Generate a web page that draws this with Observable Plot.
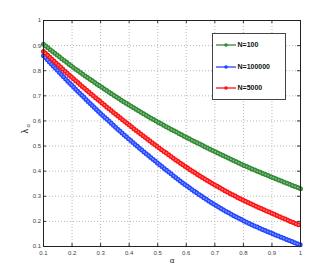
<!DOCTYPE html>
<html><head><meta charset="utf-8">
<script src="https://cdn.jsdelivr.net/npm/d3@7"></script>
<script src="https://cdn.jsdelivr.net/npm/@observablehq/plot@0.6"></script>
<style>body{margin:0;background:#fff}#chart{width:332px;height:277px}</style>
</head><body><div id="chart"></div>
<script>
const alpha = [0.1, 0.2, 0.3, 0.4, 0.5, 0.6, 0.7, 0.8, 0.9, 1.0];
const n100 = [0.905, 0.817, 0.737, 0.663, 0.596, 0.535, 0.478, 0.424, 0.376, 0.330];
const n100000 = [0.860, 0.741, 0.630, 0.527, 0.432, 0.343, 0.266, 0.203, 0.152, 0.106];
const n5000 = [0.877, 0.773, 0.676, 0.584, 0.497, 0.416, 0.345, 0.284, 0.232, 0.183];
const seriesNames = ["N=100", "N=100000", "N=5000"];
const seriesColors = ["#2f8a33", "#2346ff", "#ff1111"];
const xTicks = [0.1, 0.2, 0.3, 0.4, 0.5, 0.6, 0.7, 0.8, 0.9, 1];
const yTicks = [0.1, 0.2, 0.3, 0.4, 0.5, 0.6, 0.7, 0.8, 0.9, 1];

const seriesValues = [n100, n100000, n5000];
const rows = [];
seriesNames.forEach((name, i) => {
  alpha.forEach((a, j) => rows.push({alpha: a, value: seriesValues[i][j], series: name}));
});

const W = 332, H = 277, mL = 43, mR = 32, mT = 20, mB = 31;
const pw = W - mL - mR, ph = H - mT - mB;
const fmt = d => String(+d.toFixed(1));
const font = "'Liberation Sans', Arial, sans-serif";

const chart = Plot.plot({
  width: W, height: H,
  marginLeft: mL, marginRight: mR, marginTop: mT, marginBottom: mB,
  x: {domain: [0.1, 1]},
  y: {domain: [0.1, 1]},
  color: {domain: seriesNames, range: seriesColors},
  style: {fontFamily: font, fontSize: "6px", color: "#444", background: "#fff", overflow: "visible"},
  marks: [
    Plot.gridX(xTicks, {stroke: "#b8b8b8", strokeOpacity: 1, strokeDasharray: "1,2"}),
    Plot.gridY(yTicks, {stroke: "#b8b8b8", strokeOpacity: 1, strokeDasharray: "1,2"}),
    Plot.axisX(xTicks, {tickSize: 0, tickPadding: 4, tickFormat: fmt, label: null, fill: "#444"}),
    Plot.axisY(yTicks, {tickSize: 0, tickPadding: 2.5, tickFormat: fmt, label: null, fill: "#444"}),
    Plot.tickX(xTicks, {x: d => d, insetTop: ph - 3, stroke: "#333"}),
    Plot.tickX(xTicks, {x: d => d, insetBottom: ph - 3, stroke: "#333"}),
    Plot.tickY(yTicks, {y: d => d, insetRight: pw - 3, stroke: "#333"}),
    Plot.tickY(yTicks, {y: d => d, insetLeft: pw - 3, stroke: "#333"}),
    Plot.line(rows, {x: "alpha", y: "value", z: "series", stroke: "series", curve: "catmull-rom", strokeWidth: 1.2}),
    Plot.line(rows, {x: "alpha", y: "value", z: "series", stroke: "series", curve: "catmull-rom", strokeWidth: 5, strokeDasharray: "0 2.9", strokeLinecap: "round"}),
    Plot.line(rows, {x: "alpha", y: "value", z: "series", stroke: "white", strokeOpacity: 0.4, curve: "catmull-rom", strokeWidth: 2, strokeDasharray: "0 2.9", strokeLinecap: "round"}),
    Plot.frame({stroke: "#222", strokeWidth: 1}),
    Plot.text(["α"], {frameAnchor: "bottom", dy: 16, fontSize: 8, fill: "#222"}),
    Plot.text(["λ"], {frameAnchor: "left", dx: -18, dy: 0, rotate: -90, fontSize: 9, fill: "#222"}),
    Plot.text(["o"], {frameAnchor: "left", dx: -15, dy: -6, rotate: -90, fontSize: 6, fill: "#222"})
  ]
});
document.getElementById("chart").appendChild(chart);

// legend box
const svg = d3.select(chart);
const lg = svg.append("g").attr("font-family", font).attr("text-anchor", "start");
lg.append("rect").attr("x", 212.5).attr("y", 33.5).attr("width", 73).attr("height", 66)
  .attr("fill", "#fff").attr("stroke", "#444").attr("stroke-width", 1);
const legendY = [45, 67, 88];
seriesNames.forEach((name, i) => {
  const y = legendY[i];
  lg.append("line").attr("x1", 216).attr("x2", 236).attr("y1", y).attr("y2", y)
    .attr("stroke", seriesColors[i]).attr("stroke-width", 1.3);
  lg.append("circle").attr("cx", 226).attr("cy", y).attr("r", 1.8).attr("fill", seriesColors[i]);
  lg.append("text").attr("x", 237.5).attr("y", y).attr("dy", "0.35em")
    .attr("font-size", 7).attr("font-weight", "bold").attr("fill", "#111").text(name);
});
</script>
</body></html>
